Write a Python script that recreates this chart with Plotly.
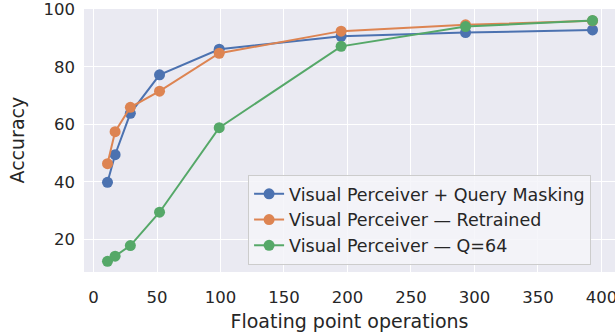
import plotly.graph_objects as go

flops = [11, 17, 29, 52, 99, 195, 293, 393]
acc_masking = [39.8, 49.4, 63.8, 77.2, 86.1, 90.6, 91.9, 92.8]
acc_retrained = [46.3, 57.4, 65.9, 71.5, 84.7, 92.4, 94.6, 96.0]
acc_q64 = [12.3, 14.1, 17.8, 29.4, 58.8, 87.1, 94.0, 96.1]

names = ["Visual Perceiver + Query Masking", "Visual Perceiver — Retrained", "Visual Perceiver — Q=64"]
colors = ["#4C72B0", "#DD8452", "#55A868"]
x_ticks = [0, 50, 100, 150, 200, 250, 300, 350, 400]
y_ticks = [20, 40, 60, 80, 100]

fig = go.Figure()
for name, ys, c in zip(names, [acc_masking, acc_retrained, acc_q64], colors):
    fig.add_trace(go.Scatter(x=flops, y=ys, name=name, mode="lines+markers",
                             line=dict(color=c, width=2),
                             marker=dict(color=c, size=11), cliponaxis=False))

font = "DejaVu Sans"
fig.update_layout(
    width=615, height=333,
    margin=dict(l=84, r=0, t=9, b=61),
    paper_bgcolor="white", plot_bgcolor="#EAEAF2",
    font=dict(family=font, color="#262626"),
    legend=dict(x=0.309, y=0.027, xanchor="left", yanchor="bottom",
                bgcolor="rgba(245,245,249,0.85)", bordercolor="#CCCCCC", borderwidth=1,
                font=dict(size=17.5, color="#262626"), tracegroupgap=0),
    showlegend=True,
)
fig.add_annotation(text="Accuracy", xref="paper", yref="paper", x=0, y=0.5,
                   xanchor="center", yanchor="middle", xshift=-68, textangle=-90,
                   showarrow=False, font=dict(size=19, color="#262626"))
fig.update_xaxes(range=[-7.5, 410.7], tickvals=x_ticks, showgrid=True, gridcolor="white",
                 gridwidth=1.3, zeroline=False, showline=False, ticks="", automargin=False,
                 ticklabeloverflow="allow",
                 tickfont=dict(size=16.5, color="#262626"), ticklabelstandoff=13,
                 title=dict(text="Floating point operations", font=dict(size=19, color="#262626"), standoff=9))
fig.update_yaxes(range=[8.6, 100.1], tickvals=y_ticks, showgrid=True, gridcolor="white",
                 gridwidth=1.3, zeroline=False, showline=False, ticks="", automargin=False,
                 ticklabeloverflow="allow",
                 tickfont=dict(size=16.5, color="#262626"), ticklabelstandoff=8)

fig.write_html("out.html", config={"displayModeBar": False},
               post_script="document.body.style.margin='0';")
